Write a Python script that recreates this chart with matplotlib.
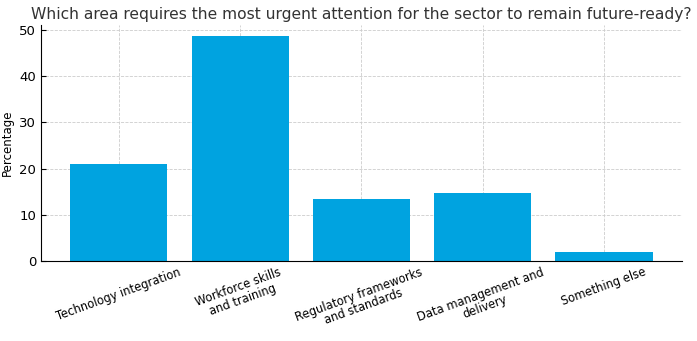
import matplotlib
matplotlib.use("Agg")
import matplotlib.pyplot as plt

categories = ["Technology integration", "Workforce skills\nand training",
              "Regulatory frameworks\nand standards", "Data management and\ndelivery",
              "Something else"]
values = [21.0, 48.7, 13.5, 14.8, 1.9]

fig, ax = plt.subplots(figsize=(6.97, 3.41), dpi=100)
ax.bar(range(len(categories)), values, width=0.8, color="#00A3E0", zorder=2)
ax.set_xticks(range(len(categories)))
ax.set_xticklabels(categories, rotation=20, ha="center", fontsize=8.3, linespacing=1.0)
ax.set_ylabel("Percentage", fontsize=8.5)
ax.set_title("Which area requires the most urgent attention for the sector to remain future-ready?",
             fontsize=11.2, color="#333333", pad=4)
ax.set_yticks([0, 10, 20, 30, 40, 50])
ax.tick_params(axis="y", direction="in", labelsize=9.5)
ax.tick_params(axis="x", direction="in")
ax.grid(True, linestyle="--", color="#cccccc", linewidth=0.6, zorder=0)
ax.spines["top"].set_visible(False)
ax.spines["right"].set_visible(False)
fig.subplots_adjust(left=0.059, right=0.978, top=0.927, bottom=0.235)
fig.savefig("out.png", dpi=100)
